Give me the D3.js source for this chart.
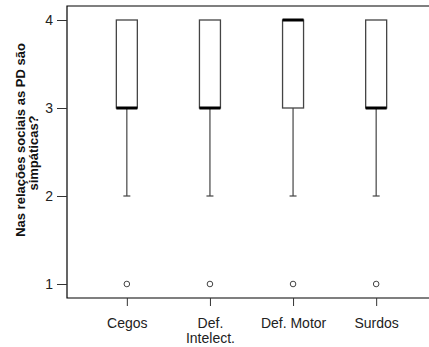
<!DOCTYPE html>
<html>
<head>
<meta charset="utf-8">
<script src="https://cdn.jsdelivr.net/npm/d3@7"></script>
<style>
  body { margin: 0; background: #fff; }
  svg { display: block; font-family: "Liberation Sans", Arial, sans-serif; }
</style>
</head>
<body>
<div id="chart"></div>
<script>
// values
const categories = ["Cegos", "Def.\nIntelect.", "Def. Motor", "Surdos"];
const q1 = [3, 3, 3, 3];
const medians = [3, 3, 4, 3];
const q3 = [4, 4, 4, 4];
const whiskerLow = [2, 2, 2, 2];
const whiskerHigh = [4, 4, 4, 4];
const outliers = [[1], [1], [1], [1]];
const yTicks = [1, 2, 3, 4];
const yTitle = ["Nas relações sociais as PD são", "simpáticas?"];

const width = 429;
const height = 347;
const frame = { left: 67, top: 6, right: 436, bottom: 298 };
const boxWidth = 21;
const capWidth = 7;

const data = categories.map((c, i) => ({
    cat: c,
    q1: q1[i],
    median: medians[i],
    q3: q3[i],
    lo: whiskerLow[i],
    hi: whiskerHigh[i],
    out: outliers[i]
}));

const svg = d3.select("#chart")
    .append("svg")
    .attr("width", width)
    .attr("height", height);

const x = d3.scalePoint()
    .domain(categories)
    .range([frame.left, frame.right])
    .padding(0.72);

const y = d3.scaleLinear()
    .domain([1, 4])
    .range([284, 20]);

// frame (open on the right)
svg.append("path")
    .attr("d", `M${frame.right},${frame.top}H${frame.left}V${frame.bottom}H${frame.right}`)
    .attr("fill", "none")
    .attr("stroke", "#000")
    .attr("stroke-width", 1.2);

// y axis
const yAxis = svg.append("g")
    .attr("transform", `translate(${frame.left},0)`)
    .call(d3.axisLeft(y).tickValues(yTicks).tickFormat(d3.format("d")).tickSize(10).tickPadding(4));
yAxis.select(".domain").remove();
yAxis.selectAll(".tick line").attr("stroke", "#333");
yAxis.selectAll(".tick text")
    .attr("font-size", "14px")
    .attr("fill", "#222")
    .attr("font-family", "\"Liberation Sans\", Arial, sans-serif");

// x axis
const xAxis = svg.append("g")
    .attr("transform", `translate(0,${frame.bottom})`)
    .call(d3.axisBottom(x).tickSize(8).tickPadding(12));
xAxis.select(".domain").remove();
xAxis.selectAll(".tick line").attr("stroke", "#333");
xAxis.selectAll(".tick text")
    .attr("font-size", "14px")
    .attr("fill", "#222")
    .attr("font-family", "\"Liberation Sans\", Arial, sans-serif")
    .each(function (d) {
        const t = d3.select(this);
        const lines = d.split("\n");
        t.text(null);
        lines.forEach((l, i) => {
            t.append("tspan")
                .attr("x", 0)
                .attr("dy", i === 0 ? "0.71em" : "1.05em")
                .text(l);
        });
    })
    .attr("dy", null);

// y title, two lines, rotated
const title = svg.append("text")
    .attr("transform", "translate(25,146) rotate(-90)")
    .attr("text-anchor", "middle")
    .attr("font-size", "13px")
    .attr("font-weight", "bold")
    .attr("fill", "#111");
title.append("tspan").attr("x", 6).attr("dy", 0).text(yTitle[0]);
title.append("tspan").attr("x", -7).attr("dy", 13).text(yTitle[1]);

// boxes
const g = svg.selectAll(".box")
    .data(data)
    .join("g")
    .attr("class", "box")
    .attr("transform", d => `translate(${x(d.cat)},0)`);

// lower whisker
g.append("line")
    .attr("x1", 0).attr("x2", 0)
    .attr("y1", d => y(d.q1))
    .attr("y2", d => y(d.lo))
    .attr("stroke", "#444")
    .attr("stroke-width", 1.2);
g.append("line")
    .attr("x1", -capWidth / 2).attr("x2", capWidth / 2)
    .attr("y1", d => y(d.lo))
    .attr("y2", d => y(d.lo))
    .attr("stroke", "#444")
    .attr("stroke-width", 1.2);

// upper whisker (zero length here since q3 equals the max)
g.filter(d => d.hi > d.q3).append("line")
    .attr("x1", 0).attr("x2", 0)
    .attr("y1", d => y(d.q3))
    .attr("y2", d => y(d.hi))
    .attr("stroke", "#444");

g.append("rect")
    .attr("x", -boxWidth / 2)
    .attr("width", boxWidth)
    .attr("y", d => y(d.q3))
    .attr("height", d => y(d.q1) - y(d.q3))
    .attr("fill", "#fff")
    .attr("stroke", "#444")
    .attr("stroke-width", 1.3);

g.append("line")
    .attr("x1", -boxWidth / 2).attr("x2", boxWidth / 2)
    .attr("y1", d => y(d.median))
    .attr("y2", d => y(d.median))
    .attr("stroke", "#000")
    .attr("stroke-width", 3);

g.selectAll(".out")
    .data(d => d.out)
    .join("circle")
    .attr("class", "out")
    .attr("cx", 0)
    .attr("cy", d => y(d))
    .attr("r", 2.8)
    .attr("fill", "#fff")
    .attr("stroke", "#444")
    .attr("stroke-width", 1);
</script>
</body>
</html>
